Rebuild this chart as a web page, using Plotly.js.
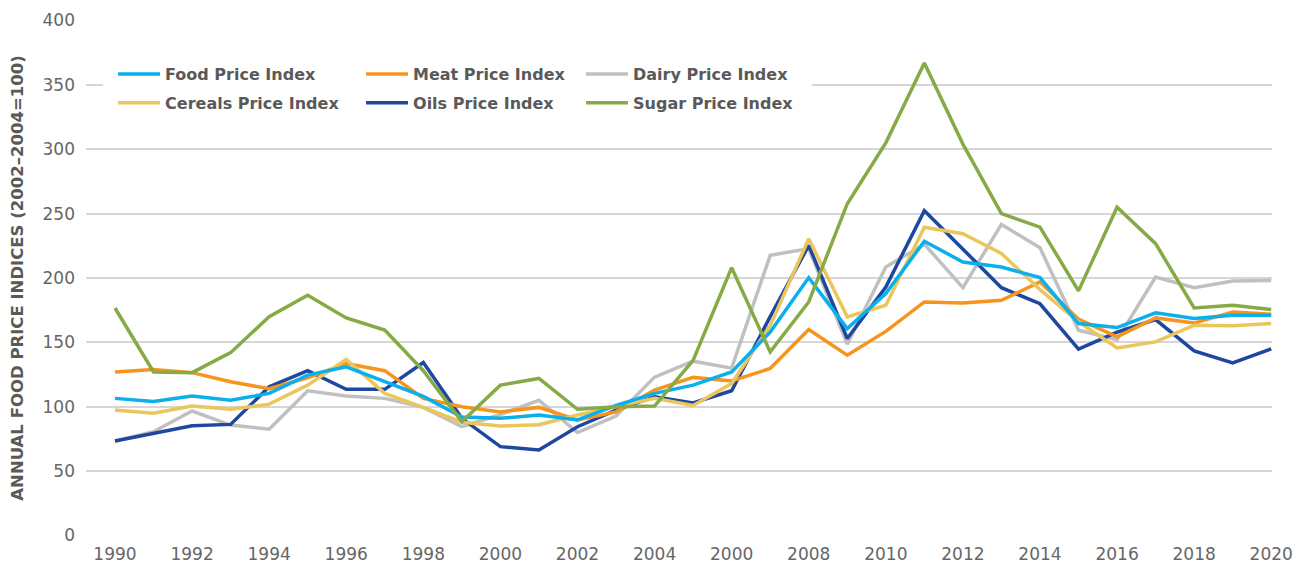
<!DOCTYPE html>
<html>
<head>
<meta charset="utf-8">
<script src="https://cdn.plot.ly/plotly-3.0.1.min.js"></script>
<style>
  html, body { margin: 0; padding: 0; background: #ffffff; }
  #chart { width: 1303px; height: 567px; }
</style>
</head>
<body>
<div id="chart"></div>
<script>
// ---- Data ----
const years = [1990, 1991, 1992, 1993, 1994, 1995, 1996, 1997, 1998, 1999,
               2000, 2001, 2002, 2003, 2004, 2005, 2006, 2007, 2008, 2009,
               2010, 2011, 2012, 2013, 2014, 2015, 2016, 2017, 2018, 2019, 2020];

const foodIndex = [106.5, 104, 108.3, 105, 110.4, 124.6, 131, 119.4, 108, 92,
                   91, 93.6, 89.7, 101, 110.4, 116.8, 127, 158, 200.3, 160.7,
                   188, 228.5, 212.4, 208.5, 200.3, 164.6, 161.5, 172.9, 168.5, 171, 171];

const meatIndex = [127, 129, 126.5, 119.4, 114, 122.5, 133.6, 128, 106.5, 100,
                   96, 99.5, 89.7, 96, 113, 122.8, 120, 129.7, 160, 140,
                   158.5, 181.4, 180.6, 182.7, 197, 168, 154.3, 169, 165, 173.6, 171.8];

const dairyIndex = [73.4, 80.6, 96.7, 85.8, 82.5, 112.4, 108.3, 106.5, 99.5, 84.5,
                    94, 105, 80, 92.8, 123, 135.4, 130, 217.6, 222.8, 148.6,
                    208.5, 226.3, 192.5, 241.6, 223.5, 159.5, 152, 200.8, 192.5, 197.7, 198];

const cerealsIndex = [97.4, 94.9, 100.5, 98, 102, 116.8, 136.7, 110.4, 99.5, 88,
                      85, 86, 93.6, 100, 106.5, 101, 118, 163, 230.5, 169.8,
                      178.8, 239.5, 234.4, 219, 191, 166, 145.7, 150.4, 163.3, 163, 164.6];

const oilsIndex = [73.4, 79.3, 85.3, 86.3, 115.5, 128, 113.5, 113.5, 134.4, 91,
                   69, 66.4, 84.5, 97.4, 107.8, 103, 112.4, 170, 225.3, 153,
                   193, 252.3, 222.5, 192.5, 180, 144.7, 158, 167.7, 143.4, 134, 145];

const sugarIndex = [176.7, 127, 126.5, 142, 170, 186.6, 169, 159.5, 128, 88.4,
                    116.8, 122, 98, 100, 100.5, 136, 208, 142.6, 181.4, 257.7,
                    305, 367, 304, 250, 239.5, 190, 255, 226.7, 176.7, 178.8, 175.5];

const seriesNames = ["Food Price Index", "Meat Price Index", "Dairy Price Index",
                     "Cereals Price Index", "Oils Price Index", "Sugar Price Index"];

const xTickValues = [1990, 1992, 1994, 1996, 1998, 2000, 2002, 2004, 2006, 2008,
                     2010, 2012, 2014, 2016, 2018, 2020];
const xTickLabels = ["1990", "1992", "1994", "1996", "1998", "2000", "2002", "2004", "2000", "2008",
                     "2010", "2012", "2014", "2016", "2018", "2020"];

const yAxisTitle = "ANNUAL FOOD PRICE INDICES (2002–2004=100)";

// ---- Styles ----
const colors = {
  food: "#0AAFEC",
  meat: "#F7941E",
  dairy: "#C0C0C0",
  cereals: "#EBC65A",
  oils: "#1D47A0",
  sugar: "#86AA45"
};
const LW = 3.5;

function mk(y, name, color, legend, rank) {
  return {
    type: "scatter",
    mode: "lines",
    x: years,
    y: y,
    name: name,
    line: { color: color, width: LW },
    legend: legend,
    legendgroup: name,
    legendrank: rank,
    hoverinfo: "x+y+name"
  };
}

// draw order: dairy, oils, meat, cereals, food, sugar (top)
const traces = [
  mk(dairyIndex,   seriesNames[2], colors.dairy,   "legend3", 1),
  mk(oilsIndex,    seriesNames[4], colors.oils,    "legend2", 2),
  mk(meatIndex,    seriesNames[1], colors.meat,    "legend2", 1),
  mk(cerealsIndex, seriesNames[3], colors.cereals, "legend",  2),
  mk(foodIndex,    seriesNames[0], colors.food,    "legend",  1),
  mk(sugarIndex,   seriesNames[5], colors.sugar,   "legend3", 2)
];

const tickFont = { family: "DejaVu Sans", size: 17, color: "#666666" };
const legendFont = { family: "DejaVu Sans", size: 16, weight: 700, color: "#595959" };

function legendAt(x) {
  return {
    x: x, y: 0.928, xanchor: "left", yanchor: "top",
    orientation: "v",
    bgcolor: "rgba(0,0,0,0)",
    borderwidth: 0,
    font: legendFont,
    tracegroupgap: 5,
    itemwidth: 42,
    itemclick: false, itemdoubleclick: false
  };
}

const layout = {
  width: 1303,
  height: 567,
  margin: { l: 86, r: 31, t: 20, b: 31 },
  paper_bgcolor: "#ffffff",
  plot_bgcolor: "#ffffff",
  showlegend: true,
  xaxis: {
    range: [1989.248, 2020.02],
    tickmode: "array",
    tickvals: xTickValues,
    ticktext: xTickLabels,
    showgrid: false,
    zeroline: false,
    showline: false,
    ticks: "",
    tickfont: tickFont,
    ticklabelstandoff: 6
  },
  yaxis: {
    range: [-0.4, 400.4],
    tick0: 0,
    dtick: 50,
    showgrid: true,
    gridcolor: "#D6D6D6",
    gridwidth: 1.5,
    zeroline: false,
    showline: false,
    ticks: "",
    tickfont: tickFont,
    ticklabelstandoff: 10,
    title: {
      text: yAxisTitle,
      font: { family: "DejaVu Sans", size: 16.5, weight: 700, color: "#595959" },
      standoff: 14
    }
  },
  legend: legendAt(0.0228),
  legend2: legendAt(0.2319),
  legend3: legendAt(0.4174),
  shapes: [
    {
      type: "rect", xref: "paper", yref: "paper",
      x0: 0.0143, x1: 0.612, y0: 0.814, y1: 0.926,
      fillcolor: "#ffffff", line: { width: 0 }, layer: "above"
    }
  ]
};

Plotly.newPlot("chart", traces, layout, { displayModeBar: false, staticPlot: false });
</script>
</body>
</html>
